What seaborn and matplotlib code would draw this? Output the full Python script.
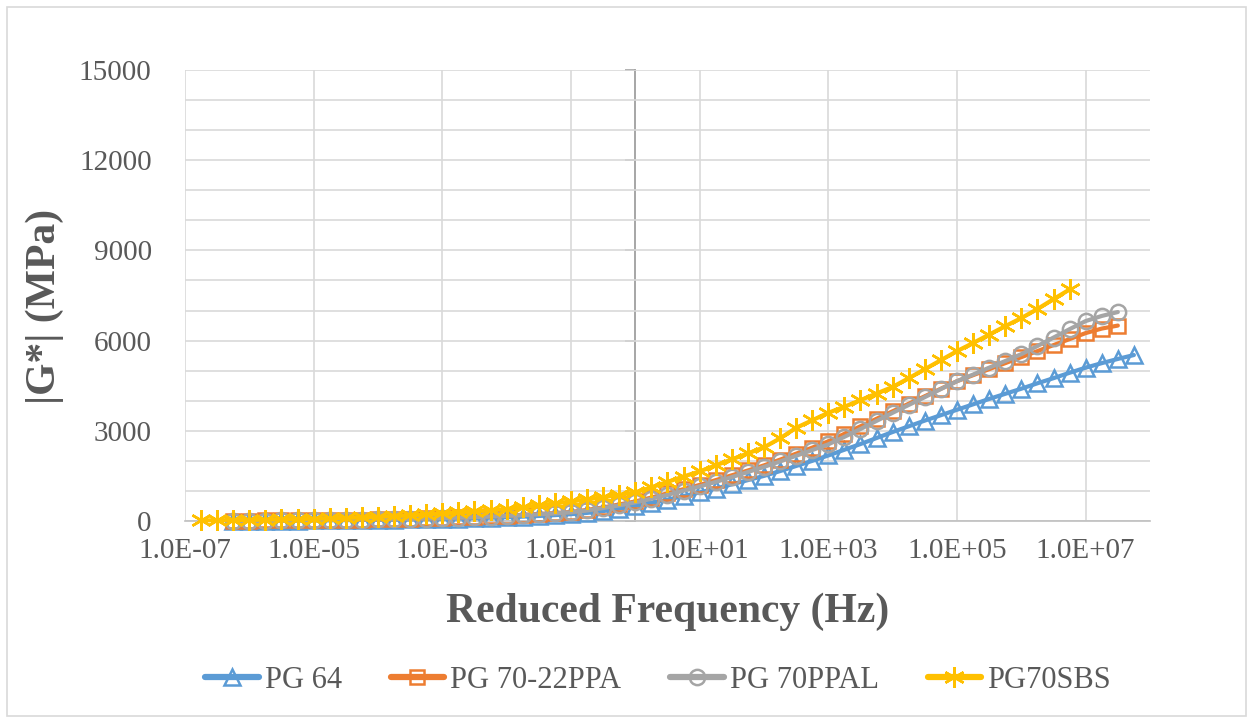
import matplotlib
matplotlib.use("Agg")
import numpy as np
import pandas as pd
import matplotlib.pyplot as plt
import seaborn as sns
from matplotlib.ticker import FixedLocator, FuncFormatter, NullLocator
from matplotlib.patches import Rectangle

# ---------------- data (log10 of reduced frequency, |G*| in MPa) ----------------
names = ["PG 64", "PG 70-22PPA", "PG 70PPAL", "PG70SBS"]

logf_pg64 = [-6.25, -6.0, -5.75, -5.5, -5.25, -5.0, -4.75, -4.5, -4.25, -4.0, -3.75, -3.5, -3.25,
             -3.0, -2.75, -2.5, -2.25, -2.0, -1.75, -1.5, -1.25, -1.0, -0.75, -0.5, -0.25,
             0.0, 0.25, 0.5, 0.75, 1.0, 1.25, 1.5, 1.75, 2.0, 2.25, 2.5, 2.75, 3.0, 3.25, 3.5, 3.75,
             4.0, 4.25, 4.5, 4.75, 5.0, 5.25, 5.5, 5.75, 6.0, 6.25, 6.5, 6.75, 7.0, 7.25, 7.5, 7.75]
g_pg64 = [5, 8, 10, 13, 16, 20, 24, 29, 34, 40, 46, 54, 62,
          72, 83, 96, 110, 126, 145, 168, 195, 228, 270, 330, 410,
          500, 600, 710, 830, 950, 1080, 1220, 1360, 1500, 1660, 1830, 2000, 2180, 2370, 2560, 2760,
          2960, 3150, 3340, 3520, 3700, 3880, 4060, 4230, 4400, 4580, 4750, 4930, 5100, 5250, 5390, 5520]

logf_ppa = [-6.25, -6.0, -5.75, -5.5, -5.25, -5.0, -4.75, -4.5, -4.25, -4.0, -3.75, -3.5, -3.25,
            -3.0, -2.75, -2.5, -2.25, -2.0, -1.75, -1.5, -1.25, -1.0, -0.75, -0.5, -0.25,
            0.0, 0.25, 0.5, 0.75, 1.0, 1.25, 1.5, 1.75, 2.0, 2.25, 2.5, 2.75, 3.0, 3.25, 3.5, 3.75,
            4.0, 4.25, 4.5, 4.75, 5.0, 5.25, 5.5, 5.75, 6.0, 6.25, 6.5, 6.75, 7.0, 7.25, 7.5]
g_ppa = [10, 13, 17, 21, 25, 30, 36, 42, 48, 55, 64, 75, 87,
         100, 117, 136, 157, 180, 205, 235, 265, 300, 370, 450, 550,
         650, 780, 920, 1060, 1200, 1360, 1520, 1680, 1850, 2040, 2240, 2440, 2650, 2900, 3150, 3400,
         3650, 3900, 4150, 4400, 4650, 4850, 5050, 5250, 5450, 5650, 5850, 6050, 6250, 6400, 6500]

logf_ppal = [-6.25, -6.0, -5.75, -5.5, -5.25, -5.0, -4.75, -4.5, -4.25, -4.0, -3.75, -3.5, -3.25,
             -3.0, -2.75, -2.5, -2.25, -2.0, -1.75, -1.5, -1.25, -1.0, -0.75, -0.5, -0.25,
             0.0, 0.25, 0.5, 0.75, 1.0, 1.25, 1.5, 1.75, 2.0, 2.25, 2.5, 2.75, 3.0, 3.25, 3.5, 3.75,
             4.0, 4.25, 4.5, 4.75, 5.0, 5.25, 5.5, 5.75, 6.0, 6.25, 6.5, 6.75, 7.0, 7.25, 7.5]
g_ppal = [9, 12, 15, 19, 23, 28, 33, 39, 45, 52, 60, 70, 82,
          95, 110, 128, 148, 170, 195, 222, 252, 290, 350, 430, 520,
          620, 740, 870, 1010, 1150, 1300, 1460, 1630, 1800, 1980, 2170, 2360, 2550, 2800, 3060, 3330,
          3600, 3860, 4120, 4390, 4650, 4870, 5100, 5320, 5550, 5820, 6100, 6380, 6650, 6820, 6950]

logf_sbs = [-6.75, -6.5, -6.25, -6.0, -5.75, -5.5, -5.25, -5.0, -4.75, -4.5, -4.25, -4.0, -3.75, -3.5, -3.25,
            -3.0, -2.75, -2.5, -2.25, -2.0, -1.75, -1.5, -1.25, -1.0, -0.75, -0.5, -0.25,
            0.0, 0.25, 0.5, 0.75, 1.0, 1.25, 1.5, 1.75, 2.0, 2.25, 2.5, 2.75, 3.0, 3.25, 3.5, 3.75,
            4.0, 4.25, 4.5, 4.75, 5.0, 5.25, 5.5, 5.75, 6.0, 6.25, 6.5, 6.75]
g_sbs = [20, 25, 30, 38, 45, 55, 66, 78, 90, 105, 120, 140, 162, 188, 218,
         250, 285, 320, 360, 400, 455, 520, 585, 650, 720, 790, 870,
         950, 1120, 1300, 1480, 1650, 1850, 2050, 2250, 2450, 2750, 3100, 3350, 3600, 3800, 4020, 4240,
         4460, 4750, 5050, 5350, 5650, 5920, 6200, 6480, 6750, 7050, 7380, 7700]

x_ticks = [1e-7, 1e-5, 1e-3, 1e-1, 1e1, 1e3, 1e5, 1e7]
y_ticks = [0, 3000, 6000, 9000, 12000, 15000]

# ---------------- style ----------------
sns.set_theme(style="white")
plt.rcParams["font.family"] = ["Liberation Serif", "DejaVu Serif"]
TXT = "#595959"
GRID = "#D9D9D9"

colors = ["#5B9BD5", "#ED7D31", "#A5A5A5", "#FFC000"]
markers = ["^", "s", "o", (6, 2, 0)]
msizes = [11, 10, 11, 15]
series = [(logf_pg64, g_pg64), (logf_ppa, g_ppa), (logf_ppal, g_ppal), (logf_sbs, g_sbs)]

fig = plt.figure(figsize=(12.53, 7.23), dpi=100)
ax = fig.add_axes([185 / 1253, 1 - 521 / 723, (1150 - 185) / 1253, (521 - 70) / 723])
ax.set_xscale("log")

for (lf, g), name, c, m, ms in zip(series, names, colors, markers, msizes):
    df = pd.DataFrame({"freq": np.power(10.0, lf), "G": g})
    sns.lineplot(data=df, x="freq", y="G", ax=ax, color=c, marker=m, markersize=ms,
                 markeredgecolor=c, markerfacecolor="none", markeredgewidth=1.8,
                 linewidth=3.0, label=name, clip_on=False, zorder=3)

ax.set_xlim(1e-7, 1e8)
ax.set_ylim(0, 15000)
ax.xaxis.set_major_locator(FixedLocator(x_ticks))
ax.xaxis.set_minor_locator(NullLocator())
ax.xaxis.set_major_formatter(FuncFormatter(lambda v, p: f"{v:.1E}"))
ax.yaxis.set_major_locator(FixedLocator(y_ticks))
ax.yaxis.set_minor_locator(FixedLocator(list(range(0, 15001, 1000))))
ax.grid(True, which="major", axis="x", color=GRID, linewidth=1.2)
ax.grid(True, which="both", axis="y", color=GRID, linewidth=1.2)
ax.set_axisbelow(True)

ax.tick_params(axis="x", length=0, labelsize=21, labelcolor=TXT, pad=12)
ax.tick_params(axis="y", which="both", length=0, labelsize=21, labelcolor=TXT, pad=24)
for s in ["top", "right", "left"]:
    ax.spines[s].set_visible(False)
ax.spines["bottom"].set_color("#BFBFBF")
ax.spines["bottom"].set_linewidth(1.2)

# vertical value axis crossing at 1 Hz (Excel style)
sec = ax.secondary_yaxis(7 / 15)
sec.set_yticks(y_ticks)
sec.tick_params(axis="y", length=7, width=1.2, color="#A6A6A6", labelleft=False, direction="out")
sec.spines["left"].set_color("#A6A6A6")
sec.spines["left"].set_linewidth(1.4)

ax.set_xlabel("Reduced Frequency (Hz)", fontsize=30, fontweight="bold", color=TXT)
ax.set_ylabel("|G*| (MPa)", fontsize=30, fontweight="bold", color=TXT)
ax.xaxis.label.set_va("center")
ax.yaxis.label.set_va("center")
ax.xaxis.set_label_coords((668 - 185) / 965, -(612 - 521) / 451)
ax.yaxis.set_label_coords((45 - 185) / 965, (521 - 306) / 451)

leg = ax.legend(loc="center", bbox_to_anchor=(658 / 1253, 1 - 680 / 723), bbox_transform=fig.transFigure,
                ncol=4, frameon=False, fontsize=22, handlelength=1.75, handletextpad=0.2,
                columnspacing=1.6, labelcolor=TXT)
for h in leg.get_lines():
    h.set_linewidth(4.5)

fig.patches.append(Rectangle((7 / 1253, 7 / 723), 1 - 14 / 1253, 1 - 14 / 723, transform=fig.transFigure,
                             fill=False, edgecolor=GRID, linewidth=1.2))

fig.savefig("out.png", dpi=100, facecolor="white")
